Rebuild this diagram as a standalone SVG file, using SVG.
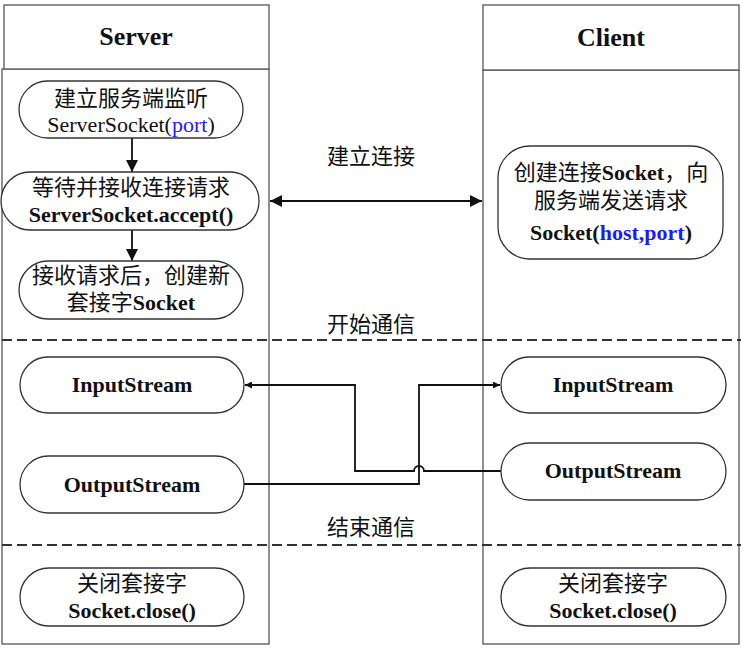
<svg xmlns="http://www.w3.org/2000/svg" width="743" height="650" viewBox="0 0 743 650">
<defs>
<style>
.lane{fill:#fff;stroke:#555;stroke-width:1.3}
.node{fill:#fff;stroke:#333;stroke-width:1.3}
.t{font-family:"Liberation Serif","Noto Sans CJK SC",serif;font-size:22px;fill:#111;text-anchor:middle}
.b{font-weight:bold}
.title{font-family:"Liberation Serif",serif;font-size:26px;font-weight:bold;fill:#111;text-anchor:middle}
.blue{fill:#1a1aff}
.dash{stroke:#333;stroke-width:2;stroke-dasharray:10 5;fill:none}
.c{stroke:#111;stroke-width:1.8;fill:none}
</style>
<marker id="ah" viewBox="0 0 10 10" refX="10" refY="5" markerWidth="7" markerHeight="7" orient="auto-start-reverse" markerUnits="userSpaceOnUse">
<path d="M0,0 L10,5 L0,10 z" fill="#111"/>
</marker>
<marker id="ah2" viewBox="0 0 10 10" refX="10" refY="5" markerWidth="12" markerHeight="12" orient="auto-start-reverse" markerUnits="userSpaceOnUse">
<path d="M0,0 L10,5 L0,10 z" fill="#111"/>
</marker>
</defs>

<g id="lane-server">
<rect class="lane" x="2" y="69" width="267" height="575"/>
<rect class="lane" x="4" y="5" width="265" height="64"/>
<text class="title" x="136" y="45">Server</text>
</g>
<g id="lane-client">
<rect class="lane" x="483" y="70" width="256" height="574"/>
<rect class="lane" x="483" y="5" width="256" height="65"/>
<text class="title" x="611" y="46">Client</text>
</g>

<g id="phases">
<line class="dash" x1="2" y1="340" x2="741" y2="340"/>
<line class="dash" x1="2" y1="545" x2="741" y2="545"/>
<text class="t" x="371" y="164">建立连接</text>
<text class="t" x="371" y="332">开始通信</text>
<text class="t" x="371" y="535">结束通信</text>
</g>

<g id="connectors">
<line class="c" x1="132" y1="138" x2="132" y2="172" marker-end="url(#ah2)"/>
<line class="c" x1="132" y1="230" x2="132" y2="261" marker-end="url(#ah2)"/>
<line class="c" x1="270" y1="201" x2="482" y2="201" marker-start="url(#ah2)" marker-end="url(#ah2)"/>
<path class="c" d="M501,471 L424,471 A5,5 0 0 0 414,471 L355,471 L355,385 L245,385" marker-end="url(#ah)"/>
<path class="c" d="M244,484 L419,484 L419,385 L500,385" marker-end="url(#ah)"/>
</g>

<g id="s-listen">
<rect class="node" x="19" y="81" width="224" height="57" rx="28.5"/>
<text class="t" x="131" y="106">建立服务端监听</text>
<text class="t" x="131" y="132">ServerSocket(<tspan class="blue">port</tspan>)</text>
</g>
<g id="s-accept">
<rect class="node" x="1" y="172" width="258" height="58" rx="29"/>
<text class="t" x="131" y="195">等待并接收连接请求</text>
<text class="t b" x="131" y="222">ServerSocket.accept()</text>
</g>
<g id="s-socket">
<rect class="node" x="19" y="261" width="224" height="58" rx="29"/>
<text class="t" x="131" y="283">接收请求后，创建新</text>
<text class="t" x="131" y="310">套接字<tspan class="b">Socket</tspan></text>
</g>
<g id="c-connect">
<rect class="node" x="498" y="146" width="225" height="113" rx="32"/>
<text class="t" x="611" y="180">创建连接<tspan class="b">Socket</tspan>，向</text>
<text class="t" x="611" y="208">服务端发送请求</text>
<text class="t b" x="611" y="240">Socket(<tspan class="blue">host,port</tspan>)</text>
</g>
<g id="s-input">
<rect class="node" x="20" y="357" width="224" height="56" rx="28"/>
<text class="t b" x="132" y="392">InputStream</text>
</g>
<g id="s-output">
<rect class="node" x="20" y="456" width="224" height="57" rx="28.5"/>
<text class="t b" x="132" y="492">OutputStream</text>
</g>
<g id="c-input">
<rect class="node" x="501" y="357" width="225" height="56" rx="28"/>
<text class="t b" x="613" y="392">InputStream</text>
</g>
<g id="c-output">
<rect class="node" x="501" y="443" width="225" height="57" rx="28.5"/>
<text class="t b" x="613" y="478">OutputStream</text>
</g>
<g id="s-close">
<rect class="node" x="20" y="568" width="224" height="58" rx="29"/>
<text class="t" x="132" y="591">关闭套接字</text>
<text class="t b" x="132" y="618">Socket.close()</text>
</g>
<g id="c-close">
<rect class="node" x="501" y="568" width="225" height="58" rx="29"/>
<text class="t" x="613" y="591">关闭套接字</text>
<text class="t b" x="613" y="618">Socket.close()</text>
</g>
</svg>
